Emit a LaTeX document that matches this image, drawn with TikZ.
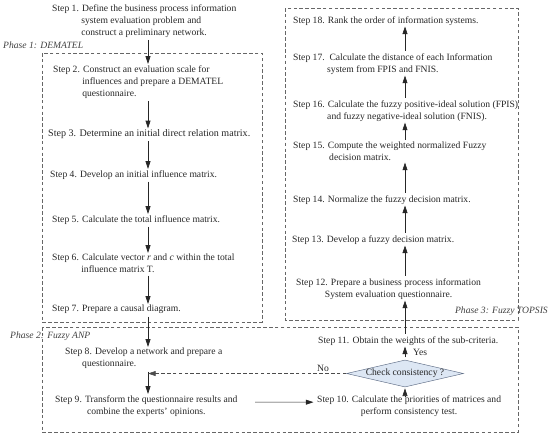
\documentclass[tikz,border=0pt]{standalone}
\usepackage{fontspec}
\setmainfont{Liberation Serif}
\usetikzlibrary{arrows.meta,shapes.geometric,positioning}
\definecolor{chkfill}{RGB}{221,231,244}
\definecolor{chkline}{RGB}{96,110,135}

\begin{document}
\begin{tikzpicture}[x=0.03cm,y=-0.03cm]

\newcommand{\stpfont}{\fontsize{8.2}{10.3}\selectfont}
\tikzstyle{every node}=[inner sep=0pt, text=black!85]
\tikzstyle{stp}=[anchor=north west, align=left, font=\stpfont]
\tikzstyle{stpc}=[stp, align=center]
\tikzstyle{phasebox}=[draw=black!60, dash pattern=on 3pt off 2pt, line width=0.5pt]
\tikzstyle{phaselbl}=[font=\stpfont\itshape, text=black!75]
\tikzstyle{arr}=[-{Triangle[length=6.5pt,width=4.2pt]}, line width=0.5pt, black!85]
\tikzstyle{chkbox}=[diamond, aspect=4.3, draw=chkline, fill=chkfill,
  minimum width=3.51cm, minimum height=0.81cm, font=\stpfont]

\useasboundingbox (0,0) rectangle (550,436);

\coordinate (cL) at (148,0);
\coordinate (cR) at (405,0);

% phases
\draw[phasebox] (42,53) rectangle (262,322);
\draw[phasebox] (42,327) rectangle (518,432);
\draw[phasebox] (285,8) rectangle (518,320);

\node[phaselbl, anchor=west] (ph1) at (3,45) {Phase 1: DEMATEL};
\node[phaselbl, anchor=west] (ph2) at (10,336) {Phase 2: Fuzzy ANP};
\node[phaselbl, anchor=east] (ph3) at (548,311) {Phase 3: Fuzzy TOPSIS};

% left column
\node[stp] (st1) at (52,4) {Step 1. Define the business process information\\
  \hphantom{Step 1.} system evaluation problem and\\
  \hphantom{Step 1.} construct a preliminary network.};
\node[stp] (st2) at (53,65) {Step 2. Construct an evaluation scale for\\
  \hphantom{Step 2.} influences and prepare a DEMATEL\\
  \hphantom{Step 2.} questionnaire.};
\node[stp, font=\fontsize{8.6}{10.3}\selectfont] (st3) at (48,129.5) {Step 3. Determine an initial direct relation matrix.};
\node[stp] (st4) at (50,170) {Step 4. Develop an initial influence matrix.};
\node[stp] (st5) at (52,215) {Step 5. Calculate the total influence matrix.};
\node[stp] (st6) at (52,254) {Step 6. Calculate vector \textit{r} and \textit{c} within the total\\
  \hphantom{Step 6.} influence matrix T.};
\node[stp] (st7) at (52,305) {Step 7. Prepare a causal diagram.};
\node[stp] (st8) at (65,348) {Step 8. Develop a network and prepare a\\
  \hspace*{5.1mm}questionnaire.};
\node[stpc] (st9) at (55,395) {Step 9. Transform the questionnaire results and\\
  combine the experts' opinions.};

% right column
\node[stpc] (st10) at (317,395) {Step 10. Calculate the priorities of matrices and\\
  perform consistency test.};
\node[chkbox] (chk) at (405,373.5) {Check consistency ?};
\node[stp] (st11) at (318,336) {Step 11. Obtain the weights of the sub-criteria.};
\node[stpc] (st12) at (296,278) {Step 12. Prepare a business process information\\
  System evaluation questionnaire.};
\node[stp] (st13) at (292,235) {Step 13. Develop a fuzzy decision matrix.};
\node[stp] (st14) at (293,195) {Step 14. Normalize the fuzzy decision matrix.};
\node[stp] (st15) at (293,142) {Step 15. Compute the weighted normalized Fuzzy\\
  \hspace*{10.8mm}decision matrix.};
\node[stp] (st16) at (293,100) {Step 16. Calculate the fuzzy positive-ideal solution (FPIS)\\
  \hspace*{10.2mm}and fuzzy negative-ideal solution (FNIS).};
\node[stp] (st17) at (293,53) {Step 17.\ \ Calculate the distance of each Information\\
  \hspace*{10.2mm}system from FPIS and FNIS.};
\node[stp] (st18) at (293,16) {Step 18. Rank the order of information systems.};

\node[font=\stpfont, anchor=west] (yes) at (413,352) {Yes};
\node[font=\stpfont] (no) at (323,368) {No};

% arrows
\path[arr, shorten <=2pt, shorten >=1pt]
  (st1.south -| cL) edge (st2.north -| cL)
  (st2.south -| cL) edge (st3.north -| cL)
  (st3.south -| cL) edge (st4.north -| cL)
  (st4.south -| cL) edge (st5.north -| cL)
  (st5.south -| cL) edge (st6.north -| cL)
  (st6.south -| cL) edge (st7.north -| cL)
  (st7.south -| cL) edge (st8.north -| cL)
  (st8.south -| cL) edge (st9.north -| cL);

\path[arr, shorten <=2pt, shorten >=1pt]
  (st10.north -| cR) edge (chk.south)
  (chk.north) edge (st11.south -| cR)
  (st11.north -| cR) edge (st12.south -| cR)
  (st12.north -| cR) edge (st13.south -| cR)
  (st13.north -| cR) edge (st14.south -| cR)
  (st14.north -| cR) edge (st15.south -| cR)
  (st15.north -| cR) edge (st16.south -| cR)
  (st16.north -| cR) edge (st17.south -| cR)
  (st17.north -| cR) edge (st18.south -| cR);

\draw[arr, shorten <=15pt, shorten >=3pt] ([yshift=3pt]st9.east) -- ([yshift=3pt]st10.west);
\draw[arr, black!70, dash pattern=on 3pt off 2pt] (chk.west) -- (chk.west -| cL);

\end{tikzpicture}
\end{document}
